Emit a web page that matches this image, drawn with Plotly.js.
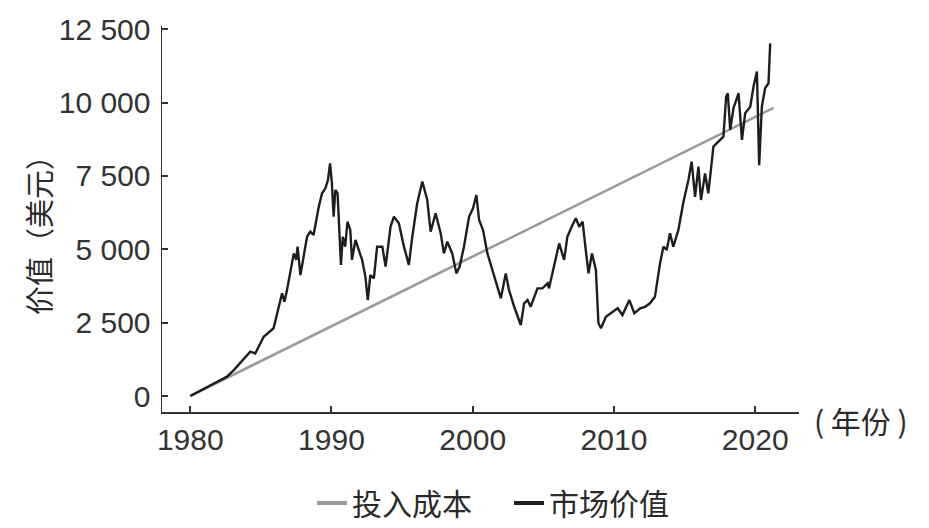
<!DOCTYPE html>
<html>
<head>
<meta charset="utf-8">
<script src="https://cdn.plot.ly/plotly-3.0.1.min.js"></script>
<style>html,body{margin:0;padding:0;background:#fff;}#chart{width:929px;height:528px;}</style>
</head>
<body>
<div id="chart"></div>
<script>
// Investment cost (linear contributions)
const costYears = [1980, 2021.3];
const costValues = [0, 9820];

// Market value
const marketYears = [
1980.0,1981.0,1982.0,1982.6,1983.1,1983.7,1984.25,1984.6,1985.2,1985.9,
1986.26,1986.5,1986.67,1986.85,1987.2,1987.33,1987.5,1987.6,1987.8,1988.0,
1988.27,1988.5,1988.73,1989.1,1989.33,1989.57,1989.75,1989.9,1990.03,1990.15,
1990.27,1990.43,1990.67,1990.8,1990.97,1991.13,1991.33,1991.45,1991.7,1991.93,
1992.17,1992.4,1992.57,1992.75,1993.0,1993.23,1993.6,1993.83,1994.18,1994.42,
1994.77,1995.13,1995.48,1995.72,1996.07,1996.43,1996.78,1997.02,1997.37,1997.73,
1997.96,1998.2,1998.55,1998.84,1999.07,1999.38,1999.74,2000.02,2000.26,2000.45,
2000.73,2001.04,2001.4,2001.75,2001.99,2002.34,2002.57,2002.93,2003.4,2003.64,
2003.88,2004.1,2004.58,2004.93,2005.3,2005.4,2005.76,2006.12,2006.47,2006.7,
2007.06,2007.3,2007.54,2007.78,2008.0,2008.2,2008.44,2008.72,2008.9,2009.08,
2009.43,2009.9,2010.26,2010.6,2011.09,2011.44,2011.86,2012.2,2012.55,2012.9,
2013.26,2013.5,2013.73,2013.97,2014.2,2014.56,2014.9,2015.27,2015.5,2015.74,
2015.98,2016.16,2016.45,2016.68,2016.85,2017.04,2017.39,2017.75,2017.94,2018.06,
2018.23,2018.46,2018.82,2019.06,2019.29,2019.65,2019.88,2020.12,2020.28,2020.47,
2020.7,2020.94,2021.06
];
const marketValues = [
0,250,500,660,890,1200,1510,1450,2020,2310,
2990,3500,3215,3610,4520,4860,4640,5090,4120,4640,
5430,5600,5490,6450,6910,7080,7360,7930,7250,6110,
7020,6910,4470,5430,5090,5940,5660,4640,5320,4980,
4640,4070,3270,4120,4010,5090,5090,4410,5770,6110,
5890,5090,4470,5430,6570,7310,6680,5600,6230,5550,
4860,5260,4860,4180,4410,5090,6110,6400,6850,6000,
5660,4860,4300,3730,3330,4180,3610,3050,2420,3160,
3270,3040,3670,3670,3840,3670,4410,5200,4640,5430,
5830,6060,5770,5940,4980,4180,4860,4300,2480,2310,
2700,2870,2990,2760,3270,2820,2990,3040,3160,3380,
4520,5090,4980,5550,5090,5660,6570,7360,7990,6790,
7820,6680,7590,6910,7700,8500,8670,8840,10200,10320,
9070,9810,10320,8730,9640,9860,10550,11060,7870,9860,
10490,10660,12020
];

const yTickVals = [0, 2500, 5000, 7500, 10000, 12500];
const yTickText = ['0', '2 500', '5 000', '7 500', '10 000', '12 500'];
const xTickVals = [1980, 1990, 2000, 2010, 2020];
const xTickText = ['1980', '1990', '2000', '2010', '2020'];

const seriesNames = ['投入成本', '市场价值'];
const yTitle = '价值（美元）';
const xTitle = '( 年份 )';

const FONT = '"Liberation Sans", "Noto Sans CJK SC", sans-serif';
const CJK = '"Noto Sans CJK SC", sans-serif';
const GRAY = '#9a9a9a';
const BLACK = '#1e1e1e';
const TXT = '#2a2a2a';

const traces = [
  {x: costYears, y: costValues, type: 'scatter', mode: 'lines', name: seriesNames[0],
   line: {color: GRAY, width: 2.6}, showlegend: false, hoverinfo: 'skip'},
  {x: marketYears, y: marketValues, type: 'scatter', mode: 'lines', name: seriesNames[1],
   line: {color: BLACK, width: 2.4}, showlegend: false, hoverinfo: 'skip'},
  // legend entries
  {x: [null], y: [null], type: 'scatter', mode: 'lines', name: seriesNames[0],
   line: {color: GRAY, width: 4}},
  {x: [null], y: [null], type: 'scatter', mode: 'lines', name: seriesNames[1],
   line: {color: BLACK, width: 4}}
];

const layout = {
  width: 929, height: 528,
  margin: {l: 162, r: 130, t: 26, b: 116, autoexpand: false},
  paper_bgcolor: '#ffffff', plot_bgcolor: '#ffffff',
  font: {family: FONT, color: TXT, size: 30},
  showlegend: true,
  legend: {orientation: 'h', x: 0.2355, xanchor: 'left', y: -0.2358, yanchor: 'middle',
    font: {family: CJK, size: 30, color: TXT}, itemwidth: 30, entrywidth: 152, tracegroupgap: 0},
  xaxis: {
    range: [1978.0, 2023.1], showgrid: false, zeroline: false,
    showline: true, linecolor: '#333', linewidth: 1.5,
    ticks: 'inside', ticklen: 6, tickwidth: 2, tickcolor: '#333',
    tickvals: xTickVals, ticktext: xTickText,
    tickfont: {family: FONT, size: 30, color: '#333'}, ticklabelstandoff: 0
  },
  yaxis: {
    range: [-545, 12612], showgrid: false, zeroline: false,
    showline: true, linecolor: '#333', linewidth: 1.5,
    ticks: 'inside', ticklen: 6, tickwidth: 2, tickcolor: '#333',
    tickvals: yTickVals, ticktext: yTickText,
    tickfont: {family: FONT, size: 30, color: '#333'}, ticklabelstandoff: 4
  },
  annotations: [
    {text: xTitle, xref: 'paper', yref: 'paper', x: 1.0, y: 0, xanchor: 'left', yanchor: 'middle',
     xshift: 13, yshift: -8, showarrow: false, font: {family: CJK, size: 30, color: TXT}},
    {text: yTitle, xref: 'paper', yref: 'paper', x: -0.1947, y: 0.4767, xanchor: 'center', yanchor: 'middle',
     textangle: -90, showarrow: false, font: {family: CJK, size: 29, color: TXT}}
  ]
};

Plotly.newPlot('chart', traces, layout, {staticPlot: true, displayModeBar: false});
</script>
</body>
</html>
